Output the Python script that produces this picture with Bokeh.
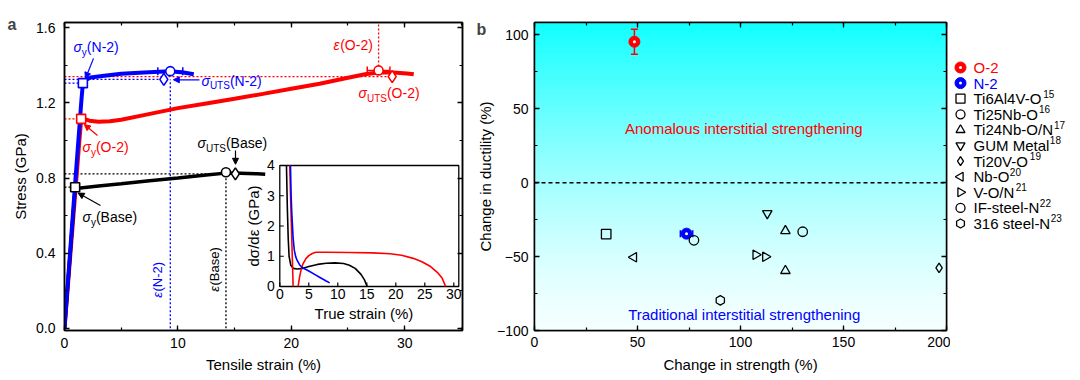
import numpy as np
from math import pi
from bokeh.plotting import figure
from bokeh.layouts import row
from bokeh.models import (Range1d, LinearAxis, FixedTicker, PrintfTickFormatter, Arrow, NormalHead, Span)
from bokeh.core.properties import value
from bokeh.embed import file_html
from bokeh.resources import INLINE

FONT = "Liberation Sans"
RED = "#FF0000"
BLUE = "#0000FF"
BLACK = "#000000"

# ---------------- Panel a data: engineering stress-strain ----------------
n2_strain = [0, 0.5, 1.0, 1.35, 1.5, 1.6, 1.8, 2.3, 3.5, 5, 7, 9.3, 10.5, 11.4]
n2_stress = [0, 0.41, 0.82, 1.10, 1.22, 1.29, 1.32, 1.335, 1.345, 1.355, 1.362, 1.368, 1.362, 1.352]
o2_strain = [0, 0.5, 1.0, 1.3, 1.47, 1.7, 2.2, 3.0, 4.0, 5.0, 7.0, 10.0, 12.5, 15.0, 17.5, 20.0,
             22.5, 25.0, 26.5, 27.7, 29.0, 30.2, 30.8]
o2_stress = [0, 0.38, 0.76, 0.99, 1.11, 1.115, 1.105, 1.10, 1.102, 1.11, 1.135, 1.172, 1.197, 1.222,
             1.248, 1.275, 1.302, 1.334, 1.352, 1.362, 1.362, 1.357, 1.352]
base_strain = [0, 0.5, 0.94, 1.2, 3.0, 5.0, 7.5, 10.0, 12.5, 14.2, 15.5, 17.0, 17.7]
base_stress = [0, 0.40, 0.75, 0.746, 0.757, 0.769, 0.785, 0.800, 0.816, 0.826, 0.825, 0.822, 0.820]

# order: N-2, O-2, Base
alloy_colors = [BLUE, RED, BLACK]
yield_strain = [1.62, 1.47, 0.94]
yield_stress = [1.305, 1.115, 0.751]
uts_strain = [9.33, 27.7, 14.24]          # circles
uts_stress = [1.369, 1.373, 0.831]
uts_err = [1.1, 1.0, 0.0]
dia_strain = [8.76, 28.9, 15.07]          # diamonds
dia_stress = [1.325, 1.34, 0.822]

# inset: work-hardening rate vs true strain
ins_base_x = [1.15, 1.3, 1.45, 1.6, 1.9, 2.3, 3.0, 4.0, 5.0, 6.5, 8.0, 9.5, 11.0, 12.0, 13.0, 14.0, 14.6, 15.06]
ins_base_y = [4.0, 2.6, 1.6, 1.0, 0.7, 0.6, 0.58, 0.6, 0.66, 0.73, 0.77, 0.78, 0.76, 0.7, 0.6, 0.4, 0.22, 0.0]
ins_n2_x = [1.84, 1.95, 2.1, 2.3, 2.5, 2.75, 3.0, 3.4, 3.85, 5, 6, 7, 8, 8.6]
ins_n2_y = [4.0, 3.0, 2.3, 1.6, 1.2, 0.98, 0.86, 0.72, 0.63, 0.51, 0.40, 0.29, 0.18, 0.12]
ins_o2_x = [1.72, 1.85, 2.0, 2.15, 2.3, np.nan, 3.16, 3.4, 3.7, 4.0, 4.5, 5.0, 5.6, 6.2, 8, 12, 16, 19,
            21, 23, 24.5, 26, 27.2, 28, 28.6]
ins_o2_y = [4.0, 3.0, 2.0, 1.0, 0.0, np.nan, 0, 0.3, 0.58, 0.75, 0.92, 1.02, 1.09, 1.13, 1.13, 1.125,
            1.11, 1.08, 1.03, 0.93, 0.82, 0.66, 0.46, 0.27, 0.0]
ins_xticks = [0, 5, 10, 15, 20, 25, 30]
ins_yticks = [0, 1, 2, 3, 4]
ins_xmax = 30.86
ins_ymax = 4

# ---------------- Panel b data ----------------
o2_b = dict(x=[48.5], y=[95.3], yerr=8.4)
n2_b = dict(x=[73.8], y=[-34.5], xerr=3.0)
lit_names = ["Ti6Al4V-O", "Ti25Nb-O", "Ti24Nb-O/N", "GUM Metal", "Ti20V-O",
             "Nb-O", "V-O/N", "IF-steel-N", "316 steel-N"]
lit_refs = ["15", "16", "17", "18", "19", "20", "21", "22", "23"]
lit_markers = ["square", "circle", "triangle", "inverted_triangle", "diamond",
               "triangle", "triangle", "circle", "hex"]
lit_angles = [0, 0, 0, 0, 0, pi / 2, -pi / 2, 0, pi / 2]
lit_x = [[34.8], [77.4], [121.8, 121.8], [113.0], [196.4], [48.2], [107.4, 112.1], [130.2], [90.2]]
lit_y = [[-34.8], [-39.0], [-32.6, -59.6], [-20.8], [-57.6], [-50.5], [-48.8, -50.1], [-33.2], [-79.6]]

# ---------------- helpers ----------------
W = {' ': .278, '(': .333, ')': .333, '-': .333, '/': .278, '%': .889, '.': .278,
     'A': .667, 'B': .667, 'G': .778, 'I': .278, 'M': .833, 'N': .722, 'O': .778, 'S': .667,
     'T': .611, 'U': .722, 'V': .667, 'F': .611,
     'a': .556, 'b': .556, 'e': .556, 'i': .222, 'l': .222, 'r': .333, 's': .5, 't': .278,
     'y': .5, 'σ': .6, 'ε': .48}


def tw(s, size):
    return sum(W.get(c, .556) for c in s) * size


def rich(p, x, y, parts, color, size=14, sub=10, angle=0.0, **kw):
    d = 0.0
    for t, kind in parts:
        fs = sub if kind == "sub" else size
        dy = 5 if kind == "sub" else 0
        if angle == 0:
            xo, yo = d, dy
        else:
            xo, yo = dy, -d
        p.text(x=[x], y=[y], text=[t], x_offset=xo, y_offset=yo, angle=angle,
               text_font=value(FONT), text_font_size=f"{fs}px",
               text_font_style="italic" if kind == "i" else "normal",
               text_color=color, text_align="left", text_baseline="middle", **kw)
        d += tw(t, fs)


def style_axis(ax, standoff, lstandoff):
    ax.major_tick_in = 5
    ax.major_tick_out = 0
    ax.minor_tick_in = 3
    ax.minor_tick_out = 0
    ax.axis_line_width = 1.5
    ax.axis_line_color = "black"
    ax.major_tick_line_width = 1.3
    ax.minor_tick_line_width = 1.2
    ax.major_label_text_font = FONT
    ax.major_label_text_font_size = "14px"
    ax.major_label_text_color = "black"
    ax.axis_label_text_font = FONT
    ax.axis_label_text_font_size = "15px"
    ax.axis_label_text_font_style = "normal"
    ax.axis_label_text_color = "black"
    ax.major_label_standoff = standoff
    ax.axis_label_standoff = lstandoff


def mirror(p, side, ticks, minor):
    ax = LinearAxis(ticker=FixedTicker(ticks=ticks, minor_ticks=minor))
    style_axis(ax, 0, 0)
    ax.major_label_text_font_size = "0px"
    ax.major_label_overrides = {t: "" for t in ticks}
    p.add_layout(ax, side)


def panel_title(p, txt, offset, standoff):
    p.title.text = txt
    p.title.text_font = FONT
    p.title.text_font_size = "16px"
    p.title.text_font_style = "bold"
    p.title.align = "left"
    p.title.vertical_align = "bottom"
    p.title.offset = offset
    p.title.standoff = standoff


# shared borders (Bokeh aligns the frames of plots in one row)
BT, BB = 22, 48
H = 378

# ================= Panel a =================
pa = figure(width=470, height=H, x_range=Range1d(0, 35.1), y_range=Range1d(-0.012, 1.628),
            output_backend="svg", toolbar_location=None,
            min_border_left=64, min_border_right=8, min_border_top=BT, min_border_bottom=BB)
pa.extra_x_ranges = {"ix": Range1d(-37.12, 31.5)}
pa.extra_y_ranges = {"iy": Range1d(-1.455, 8.727)}
pa.grid.visible = False
pa.outline_line_color = "black"
pa.outline_line_width = 1.5
panel_title(pa, "a", -57, -20)

ax_ticks = [0, 10, 20, 30]
ax_minor = [0, 5, 10, 15, 20, 25, 30, 35]
ay_ticks = [0, 0.4, 0.8, 1.2, 1.6]
ay_minor = [0, 0.2, 0.4, 0.6, 0.8, 1.0, 1.2, 1.4, 1.6]
pa.xaxis.ticker = FixedTicker(ticks=ax_ticks, minor_ticks=ax_minor)
pa.yaxis.ticker = FixedTicker(ticks=ay_ticks, minor_ticks=ay_minor)
pa.yaxis.formatter = PrintfTickFormatter(format="%.1f")
pa.xaxis.axis_label = "Tensile strain (%)"
pa.yaxis.axis_label = "Stress (GPa)"
style_axis(pa.xaxis[0], 7, 5)
style_axis(pa.yaxis[0], 9, 4)
mirror(pa, "above", ax_ticks, ax_minor)
mirror(pa, "right", ay_ticks, ay_minor)

dot = dict(line_dash="2 2", line_width=1.3)
for i, c in enumerate(alloy_colors):
    pa.line([0, yield_strain[i]], [yield_stress[i]] * 2, line_color=c, **dot)
    pa.line([0, dia_strain[i]], [dia_stress[i]] * 2, line_color=c, **dot)
pa.line([uts_strain[0]] * 2, [0, dia_stress[0]], line_color=BLUE, **dot)
pa.line([uts_strain[2]] * 2, [0, uts_stress[2]], line_color=BLACK, **dot)
pa.line([uts_strain[1]] * 2, [uts_stress[1], pa.y_range.end], line_color=RED, **dot)

pa.line(o2_strain, o2_stress, line_color=RED, line_width=4)
pa.line(base_strain, base_stress, line_color=BLACK, line_width=3.5)
pa.line(n2_strain, n2_stress, line_color=BLUE, line_width=4)

for i, c in enumerate(alloy_colors):
    if uts_err[i] > 0:
        xs = [uts_strain[i] - uts_err[i], uts_strain[i] + uts_err[i]]
        pa.line(xs, [uts_stress[i]] * 2, line_color=c, line_width=1.5)
        pa.scatter(xs, [uts_stress[i]] * 2, marker="dash", angle=pi / 2, size=8,
                   line_color=c, line_width=1.5)

pa.scatter(yield_strain, yield_stress, marker="square", size=9, fill_color="white",
           line_color=alloy_colors, line_width=1.6)
pa.scatter(dia_strain, dia_stress, marker="diamond", size=12, fill_color="white",
           line_color=alloy_colors, line_width=1.6)
pa.scatter(uts_strain, uts_stress, marker="circle", size=9, fill_color="white",
           line_color=alloy_colors, line_width=1.6)

rich(pa, 0.79, 1.495, [("σ", "i"), ("y", "sub"), ("(N-2)", "n")], BLUE)
rich(pa, 12.08, 1.319, [("σ", "i"), ("UTS", "sub"), ("(N-2)", "n")], BLUE)
rich(pa, 23.72, 1.506, [("ε", "i"), ("(O-2)", "n")], RED)
rich(pa, 25.93, 1.252, [("σ", "i"), ("UTS", "sub"), ("(O-2)", "n")], RED)
rich(pa, 1.59, 0.964, [("σ", "i"), ("y", "sub"), ("(O-2)", "n")], RED)
rich(pa, 11.73, 0.984, [("σ", "i"), ("UTS", "sub"), ("(Base)", "n")], BLACK)
rich(pa, 1.59, 0.591, [("σ", "i"), ("y", "sub"), ("(Base)", "n")], BLACK)
rich(pa, 8.2, 0.162, [("ε", "i"), ("(N-2)", "n")], BLUE, size=13, angle=pi / 2)
rich(pa, 13.2, 0.194, [("ε", "i"), ("(Base)", "n")], BLACK, size=13, angle=pi / 2)

for (x0, y0, x1, y1, c) in [(2.56, 1.437, 1.85, 1.33, BLUE), (11.9, 1.323, 9.6, 1.323, BLUE),
                            (2.91, 1.026, 1.75, 1.085, RED), (15.08, 0.946, 15.08, 0.873, BLACK),
                            (3.17, 0.654, 1.2, 0.72, BLACK)]:
    pa.add_layout(Arrow(end=NormalHead(size=6, fill_color=c, line_color=c), x_start=x0, y_start=y0,
                        x_end=x1, y_end=y1, line_color=c, line_width=1.2))

# inset (drawn through its own extra ranges)
ik = dict(x_range_name="ix", y_range_name="iy")
pa.quad(left=[0], right=[ins_xmax], bottom=[0], top=[ins_ymax], fill_color="white",
        line_color="black", line_width=1.3, **ik)
pa.line(ins_base_x, ins_base_y, line_color=BLACK, line_width=1.6, **ik)
pa.line(ins_o2_x, ins_o2_y, line_color=RED, line_width=1.6, **ik)
pa.line(ins_n2_x, ins_n2_y, line_color=BLUE, line_width=1.6, **ik)
pa.ray(x=ins_xticks, y=[0] * len(ins_xticks), length=4, length_units="screen", angle=pi / 2,
       line_color="black", line_width=1.2, **ik)
pa.ray(x=[0] * len(ins_yticks), y=ins_yticks, length=4, length_units="screen", angle=0,
       line_color="black", line_width=1.2, **ik)
pa.text(x=ins_xticks, y=[0] * len(ins_xticks), text=[str(t) for t in ins_xticks], y_offset=3,
        text_align="center", text_baseline="top", text_font=value(FONT), text_font_size="14px",
        text_color="black", **ik)
pa.text(x=[0] * len(ins_yticks), y=ins_yticks, text=[str(t) for t in ins_yticks], x_offset=-5,
        text_align="right", text_baseline="middle", text_font=value(FONT), text_font_size="14px",
        text_color="black", **ik)
pa.text(x=[14.5], y=[0], text=["True strain (%)"], y_offset=27, text_align="center",
        text_baseline="middle", text_font=value(FONT), text_font_size="15px", text_color="black", **ik)
pa.text(x=[0], y=[2.0], text=["dσ/dε (GPa)"], x_offset=-26, angle=pi / 2, text_align="center",
        text_baseline="middle", text_font=value(FONT), text_font_size="15px", text_color="black", **ik)

# ================= Panel b =================
pb = figure(width=480, height=H, x_range=Range1d(0, 200), y_range=Range1d(-100, 108.3),
            output_backend="svg", toolbar_location=None,
            min_border_left=64, min_border_right=4, min_border_top=BT, min_border_bottom=BB)
pb.grid.visible = False
pb.outline_line_color = "black"
pb.outline_line_width = 1.5
panel_title(pb, "b", -58, -30)

bx_ticks = [0, 50, 100, 150, 200]
bx_minor = list(range(0, 201, 25))
by_ticks = [-100, -50, 0, 50, 100]
by_minor = list(range(-100, 101, 25))
pb.xaxis.ticker = FixedTicker(ticks=bx_ticks, minor_ticks=bx_minor)
pb.yaxis.ticker = FixedTicker(ticks=by_ticks, minor_ticks=by_minor)
pb.yaxis.major_label_overrides = {-100: "\u2212100", -50: "\u221250"}
pb.xaxis.axis_label = "Change in strength (%)"
pb.yaxis.axis_label = "Change in ductility (%)"
style_axis(pb.xaxis[0], 6, 6)
style_axis(pb.yaxis[0], 6, 0)
mirror(pb, "above", bx_ticks, bx_minor)
mirror(pb, "right", by_ticks, by_minor)

y0b, y1b = pb.y_range.start, pb.y_range.end
edges = np.linspace(y0b, y1b, 121)
mids = (edges[:-1] + edges[1:]) / 2
tfrac = (mids - y0b) / (y1b - y0b)
rv = 245 - 228 * tfrac ** 1.4
cols = ["#%02x%02x%02x" % (int(r), 255, 255) for r in rv]
pb.quad(left=pb.x_range.start, right=pb.x_range.end, bottom=edges[:-1], top=edges[1:],
        fill_color=cols, line_color=cols, line_width=1)
pb.add_layout(Span(location=0, dimension="width", line_dash="4 3", line_color="black", line_width=1.5))

pb.text(x=[101.6], y=[36.5], text=["Anomalous interstitial strengthening"], text_align="center",
        text_baseline="middle", text_font=value(FONT), text_font_size="15px", text_color=RED)
pb.text(x=[101.8], y=[-89.2], text=["Traditional interstitial strengthening"], text_align="center",
        text_baseline="middle", text_font=value(FONT), text_font_size="15px", text_color=BLUE)

ox, oy = o2_b["x"][0], o2_b["y"][0]
pb.line([ox, ox], [oy - o2_b["yerr"], oy + o2_b["yerr"]], line_color=RED, line_width=1.5)
pb.scatter([ox, ox], [oy - o2_b["yerr"], oy + o2_b["yerr"]], marker="dash", size=7,
           line_color=RED, line_width=1.5)
nx, ny = n2_b["x"][0], n2_b["y"][0]
pb.line([nx - n2_b["xerr"], nx + n2_b["xerr"]], [ny, ny], line_color=BLUE, line_width=1.5)
pb.scatter([nx - n2_b["xerr"], nx + n2_b["xerr"]], [ny, ny], marker="dash", angle=pi / 2, size=7,
           line_color=BLUE, line_width=1.5)

pb.scatter(o2_b["x"], o2_b["y"], marker="circle", size=11, fill_color=RED, line_color=RED)
pb.scatter(o2_b["x"], o2_b["y"], marker="circle", size=3, fill_color="white", line_color=None)
pb.scatter(n2_b["x"], n2_b["y"], marker="circle", size=11, fill_color=BLUE, line_color=BLUE)
pb.scatter(n2_b["x"], n2_b["y"], marker="circle", size=3, fill_color="white", line_color=None)

for mk, ang, xs, ys in zip(lit_markers, lit_angles, lit_x, lit_y):
    pb.scatter(xs, ys, marker=mk, angle=ang, size=9.5, fill_color=None, line_color="black",
               line_width=1.3)

# ================= Legend (own small figure at the right) =================
leg_labels = ["O-2", "N-2"] + lit_names
leg_colors = [RED, BLUE] + [BLACK] * len(lit_names)
leg_rows = list(range(len(leg_labels)))
pl = figure(width=130, height=H, x_range=Range1d(0, 130), y_range=Range1d(16.86, -2.885),
            output_backend="svg", toolbar_location=None, x_axis_type=None, y_axis_type=None,
            min_border_left=0, min_border_right=0, min_border_top=BT, min_border_bottom=BB)
pl.grid.visible = False
pl.outline_line_color = None
pl.scatter([10, 10], leg_rows[:2], marker="circle", size=11, fill_color=[RED, BLUE],
           line_color=[RED, BLUE])
pl.scatter([10, 10], leg_rows[:2], marker="circle", size=3, fill_color="white", line_color=None)
pl.scatter([10] * len(lit_names), leg_rows[2:], marker=lit_markers, angle=lit_angles, size=9,
           fill_color=None, line_color="black", line_width=1.3)
pl.text(x=[23] * len(leg_labels), y=leg_rows, text=leg_labels, text_color=leg_colors,
        text_align="left", text_baseline="middle", text_font=value(FONT), text_font_size="15px")
pl.text(x=[23] * len(lit_refs), y=leg_rows[2:], text=lit_refs,
        x_offset=[tw(n, 15) + 0.5 for n in lit_names], y_offset=-5,
        text_align="left", text_baseline="middle", text_font=value(FONT), text_font_size="10px",
        text_color=BLACK)

layout = row(pa, pb, pl)
open("out.html", "w").write(file_html(layout, INLINE))
